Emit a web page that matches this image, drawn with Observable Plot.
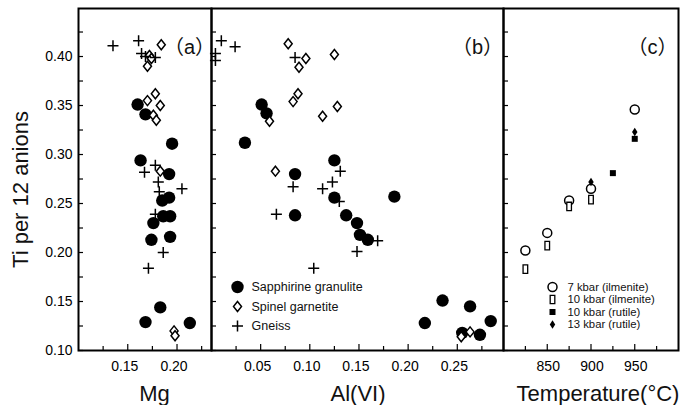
<!DOCTYPE html>
<html><head><meta charset="utf-8">
<script src="https://cdn.jsdelivr.net/npm/d3@7"></script>
<script src="https://cdn.jsdelivr.net/npm/@observablehq/plot@0.6"></script>
<style>
body{margin:0;background:#fff;}
#chart{position:relative;width:685px;height:405px;overflow:hidden;background:#fff;}
#chart svg{position:absolute;left:0;top:0;}
</style></head><body><div id="chart"></div>
<script>
// ---- data ----
const yTitle = "Ti per 12 anions";
const xTitles = ["Mg", "Al(VI)", "Temperature(°C)"];
const panelTags = ["（a）", "（b）", "（c）"];
const rockTypes = ["Sapphirine granulite", "Spinel garnetite", "Gneiss"];
const runLabels = ["7 kbar (ilmenite)", "10 kbar (ilmenite)", "10 kbar (rutile)", "13 kbar (rutile)"];

const yMajor = [0.10, 0.15, 0.20, 0.25, 0.30, 0.35, 0.40];
const yMinor = [0.125, 0.175, 0.225, 0.275, 0.325, 0.375, 0.425];
const xMajorA = [0.15, 0.20], xMinorA = [0.125, 0.175, 0.225];
const xMajorB = [0.05, 0.10, 0.15, 0.20, 0.25], xMinorB = [0.025, 0.075, 0.125, 0.175, 0.225, 0.275];
const xMajorC = [850, 900, 950], xMinorC = [825, 875, 925, 975];

// panel (a): [Mg, Ti]
const sapphirineA = [[0.160,0.351],[0.168,0.341],[0.195,0.311],[0.163,0.294],[0.192,0.280],[0.185,0.253],[0.192,0.256],[0.176,0.230],[0.186,0.237],[0.193,0.237],[0.174,0.213],[0.193,0.216],[0.168,0.129],[0.183,0.144],[0.213,0.128]];
const spinelA = [[0.184,0.412],[0.172,0.401],[0.174,0.398],[0.170,0.390],[0.170,0.355],[0.178,0.362],[0.183,0.350],[0.176,0.340],[0.179,0.335],[0.183,0.283],[0.197,0.120],[0.198,0.115]];
const gneissA = [[0.135,0.411],[0.161,0.416],[0.164,0.403],[0.168,0.400],[0.178,0.399],[0.178,0.289],[0.167,0.282],[0.181,0.272],[0.182,0.262],[0.205,0.265],[0.178,0.239],[0.186,0.200],[0.171,0.184]];
// panel (b): [Al(VI), Ti]
const sapphirineB = [[0.051,0.351],[0.056,0.342],[0.034,0.312],[0.085,0.280],[0.125,0.294],[0.125,0.256],[0.186,0.257],[0.085,0.238],[0.137,0.238],[0.148,0.230],[0.151,0.218],[0.159,0.213],[0.217,0.128],[0.235,0.151],[0.263,0.145],[0.284,0.130],[0.273,0.116],[0.255,0.118]];
const spinelB = [[0.078,0.413],[0.096,0.398],[0.089,0.389],[0.125,0.402],[0.088,0.362],[0.083,0.354],[0.059,0.334],[0.128,0.349],[0.113,0.339],[0.065,0.283],[0.254,0.114],[0.263,0.119]];
const gneissB = [[0.010,0.416],[0.024,0.410],[0.004,0.403],[0.004,0.396],[0.085,0.399],[0.083,0.267],[0.113,0.265],[0.123,0.272],[0.131,0.283],[0.066,0.239],[0.130,0.252],[0.169,0.212],[0.148,0.201],[0.104,0.184]];
// panel (c): temperature, Ti
const kbar7Ilm = [[825,0.202],[850,0.220],[875,0.253],[900,0.265],[950,0.346]];
const kbar10Ilm = [[825,0.183],[850,0.207],[875,0.247],[900,0.254]];
const kbar10Rut = [[925,0.281],[950,0.316]];
const kbar13Rut = [[900,0.272],[950,0.323]];

// ---- symbols ----
const diamondSym = (wr) => ({draw(c, s){const r=Math.sqrt(s/Math.PI), w=r*wr; c.moveTo(0,-r); c.lineTo(w,0); c.lineTo(0,r); c.lineTo(-w,0); c.closePath();}});
const plusSym = {draw(c, s){const r=Math.sqrt(s/Math.PI); c.moveTo(-r,0); c.lineTo(r,0); c.moveTo(0,-r); c.lineTo(0,r);}};
const rectSym = (wr) => ({draw(c, s){const r=Math.sqrt(s/Math.PI), w=r*wr; c.rect(-w,-r,2*w,2*r);}});
const squareSym = {draw(c, s){const r=Math.sqrt(s/Math.PI); c.rect(-r,-r,2*r,2*r);}};

const FONT = "Liberation Sans, Arial, Helvetica, sans-serif";
const fmt2 = d3.format(".2f");
const W = 685, H = 405, TOP = 8, BOTTOM = 55;
const rockStyles = [
  {symbol: "circle", r: 6.2, fill: "black", stroke: "none"},
  {symbol: diamondSym(0.8), r: 5, fill: "white", stroke: "black", strokeWidth: 1.5},
  {symbol: plusSym, r: 5.5, fill: "none", stroke: "black", strokeWidth: 1.5}
];
const runStyles = [
  {symbol: "circle", r: 4.5, fill: "white", stroke: "black", strokeWidth: 1.5},
  {symbol: rectSym(0.55), r: 4.2, fill: "white", stroke: "black", strokeWidth: 1.3},
  {symbol: squareSym, r: 3, fill: "black", stroke: "none"},
  {symbol: diamondSym(0.65), r: 4.2, fill: "black", stroke: "none"}
];

function xy(data, style){ return Plot.dot(data, {x: d => d[0], y: d => d[1], ...style}); }

function axesFor(xMajor, xMinor, xfmt, yLabels, labelDx){
  return [
    Plot.axisY(yMajor, {tickSize: -5, tickPadding: 11, tickFormat: yLabels ? fmt2 : () => "", fontSize: 14, strokeWidth: 1.2, label: null}),
    Plot.axisY(yMinor, {tickSize: -5, tickFormat: () => "", strokeWidth: 1.2, label: null}),
    Plot.axisX(xMajor, {tickSize: -6, tickFormat: () => "", strokeWidth: 1.2, label: null}),
    Plot.axisX(xMinor, {tickSize: -4, tickFormat: () => "", strokeWidth: 1.2, label: null}),
    Plot.axisX(xMajor, {tickSize: 0, tickPadding: 11, tickFormat: xfmt, fontSize: 14, dx: labelDx, label: null})
  ];
}

function panel(opts){
  return Plot.plot({
    width: W, height: H,
    marginTop: TOP, marginBottom: BOTTOM, marginLeft: opts.left, marginRight: W - opts.right,
    style: {background: "transparent", overflow: "visible", fontFamily: FONT},
    x: {domain: opts.xDomain, axis: null},
    y: {domain: [0.10, 0.449], axis: null},
    marks: [
      ...opts.marks,
      ...axesFor(opts.xMajor, opts.xMinor, opts.xfmt, opts.yLabels, opts.labelDx),
      Plot.frame({stroke: "black", strokeWidth: 2}),
      Plot.text([opts.title], {text: d => d, frameAnchor: "bottom", dx: opts.titleDx, dy: 43, fontSize: 22, textAnchor: "middle", lineAnchor: "middle", fill: "#111"}),
      Plot.text([opts.tag], {text: d => d, frameAnchor: "top-right", dx: opts.tagDx, dy: 39.5, fontSize: 20, textAnchor: "middle", lineAnchor: "middle", fontFamily: "Liberation Sans, Noto Sans CJK SC, sans-serif", fill: "#111"}),
      ...(opts.extra || [])
    ]
  });
}

function legend(labels, styles, dxSym, dxText, dys, fontSize){
  const out = [];
  labels.forEach((lab, i) => {
    out.push(Plot.dot([lab], {frameAnchor: "bottom-left", dx: dxSym, dy: dys[i], ...styles[i]}));
    out.push(Plot.text([lab], {text: d => d, frameAnchor: "bottom-left", dx: dxText, dy: dys[i], textAnchor: "start", lineAnchor: "middle", fontSize, fill: "#111"}));
  });
  return out;
}

const chart = document.getElementById("chart");

chart.append(panel({
  left: 78, right: 211, xDomain: [0.10, 0.235],
  xMajor: xMajorA, xMinor: xMinorA, xfmt: fmt2, yLabels: true, labelDx: -3,
  title: xTitles[0], titleDx: 9.5, tag: panelTags[0], tagDx: -22,
  marks: [xy(sapphirineA, rockStyles[0]), xy(spinelA, rockStyles[1]), xy(gneissA, rockStyles[2])],
  extra: [Plot.text([yTitle], {text: d => d, frameAnchor: "left", dx: -58, dy: 10, rotate: -90, fontSize: 22, textAnchor: "middle", lineAnchor: "middle", fill: "#111"})]
}));

chart.append(panel({
  left: 211, right: 503, xDomain: [0, 0.297],
  xMajor: xMajorB, xMinor: xMinorB, xfmt: fmt2, yLabels: false, labelDx: -3,
  title: xTitles[1], titleDx: 0.5, tag: panelTags[1], tagDx: -26,
  marks: [xy(sapphirineB, rockStyles[0]), xy(spinelB, rockStyles[1]), xy(gneissB, rockStyles[2])],
  extra: legend(rockTypes, rockStyles, 26, 40, [-63.5, -44, -24.5], 12.5)
}));

chart.append(panel({
  left: 503, right: 678, xDomain: [800, 1000],
  xMajor: xMajorC, xMinor: xMinorC, xfmt: d3.format("d"), yLabels: false, labelDx: 1,
  title: xTitles[2], titleDx: 7, tag: panelTags[2], tagDx: -26,
  marks: [xy(kbar7Ilm, runStyles[0]), xy(kbar10Ilm, runStyles[1]), xy(kbar10Rut, runStyles[2]), xy(kbar13Rut, runStyles[3])],
  extra: legend(runLabels, runStyles, 49, 64, [-63.5, -51, -38.5, -26], 11.3)
}));
</script></body></html>
